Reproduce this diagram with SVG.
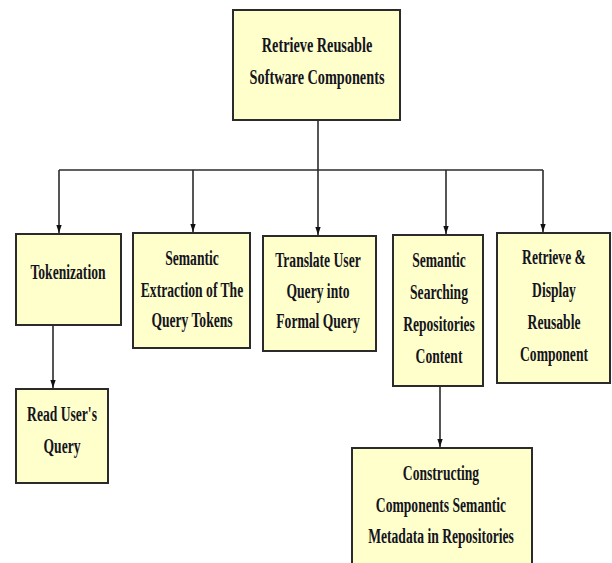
<svg xmlns="http://www.w3.org/2000/svg" width="612" height="563" viewBox="0 0 612 563">
<style>
.box{fill:#ffffcc;stroke:#2b2b2b;stroke-width:2}
.t{font-family:"Liberation Serif","Times New Roman",serif;font-weight:bold;font-size:20px;fill:#141420;text-anchor:middle}
.root{font-size:21px}
.c{fill:none;stroke:#2b2b2b;stroke-width:1.6}
</style>
<defs>
<marker id="ah" markerWidth="8" markerHeight="12" refX="12" refY="4" orient="auto" markerUnits="userSpaceOnUse" viewBox="0 0 12 8">
<path d="M0,0 L12,4 L0,8 Z" fill="#111"/>
</marker>
</defs>
<g id="connectors">
<path class="c" d="M318,120 V170"/>
<path class="c" d="M59,170 H543"/>
<path class="c" d="M59,170 V233" marker-end="url(#ah)"/>
<path class="c" d="M193,170 V232" marker-end="url(#ah)"/>
<path class="c" d="M318,170 V235" marker-end="url(#ah)"/>
<path class="c" d="M446,170 V234" marker-end="url(#ah)"/>
<path class="c" d="M543,170 V232" marker-end="url(#ah)"/>
<path class="c" d="M53,325 V388" marker-end="url(#ah)"/>
<path class="c" d="M440,386 V447" marker-end="url(#ah)"/>
</g>
<g id="root">
<rect class="box" x="233" y="10" width="167" height="110"/>
<text class="t root" transform="translate(317 0) scale(0.68 1)"><tspan x="0" y="52">Retrieve Reusable</tspan><tspan x="0" y="84">Software Components</tspan></text>
</g>
<g id="tokenization">
<rect class="box" x="16" y="234" width="105" height="91"/>
<text class="t" transform="translate(68 0) scale(0.68 1)"><tspan x="0" y="279">Tokenization</tspan></text>
</g>
<g id="semantic-extraction">
<rect class="box" x="133" y="233" width="117" height="115"/>
<text class="t" transform="translate(192 0) scale(0.68 1)"><tspan x="0" y="265">Semantic</tspan><tspan x="0" y="297">Extraction of The</tspan><tspan x="0" y="327">Query Tokens</tspan></text>
</g>
<g id="translate">
<rect class="box" x="263" y="236" width="113" height="115"/>
<text class="t" transform="translate(318 0) scale(0.68 1)"><tspan x="0" y="267">Translate User</tspan><tspan x="0" y="298">Query into</tspan><tspan x="0" y="328">Formal Query</tspan></text>
</g>
<g id="semantic-searching">
<rect class="box" x="393" y="235" width="90" height="151"/>
<text class="t" transform="translate(439 0) scale(0.68 1)"><tspan x="0" y="267">Semantic</tspan><tspan x="0" y="299">Searching</tspan><tspan x="0" y="331">Repositories</tspan><tspan x="0" y="363">Content</tspan></text>
</g>
<g id="retrieve-display">
<rect class="box" x="497" y="233" width="113" height="150"/>
<text class="t" transform="translate(554 0) scale(0.68 1)"><tspan x="0" y="264">Retrieve &amp;</tspan><tspan x="0" y="297">Display</tspan><tspan x="0" y="329">Reusable</tspan><tspan x="0" y="361">Component</tspan></text>
</g>
<g id="read-query">
<rect class="box" x="16" y="389" width="92" height="94"/>
<text class="t" transform="translate(62 0) scale(0.68 1)"><tspan x="0" y="421">Read User's</tspan><tspan x="0" y="453">Query</tspan></text>
</g>
<g id="constructing">
<rect class="box" x="352" y="448" width="180" height="125"/>
<text class="t" transform="translate(441 0) scale(0.68 1)"><tspan x="0" y="480">Constructing</tspan><tspan x="0" y="512">Components Semantic</tspan><tspan x="0" y="543">Metadata in Repositories</tspan></text>
</g>
</svg>
